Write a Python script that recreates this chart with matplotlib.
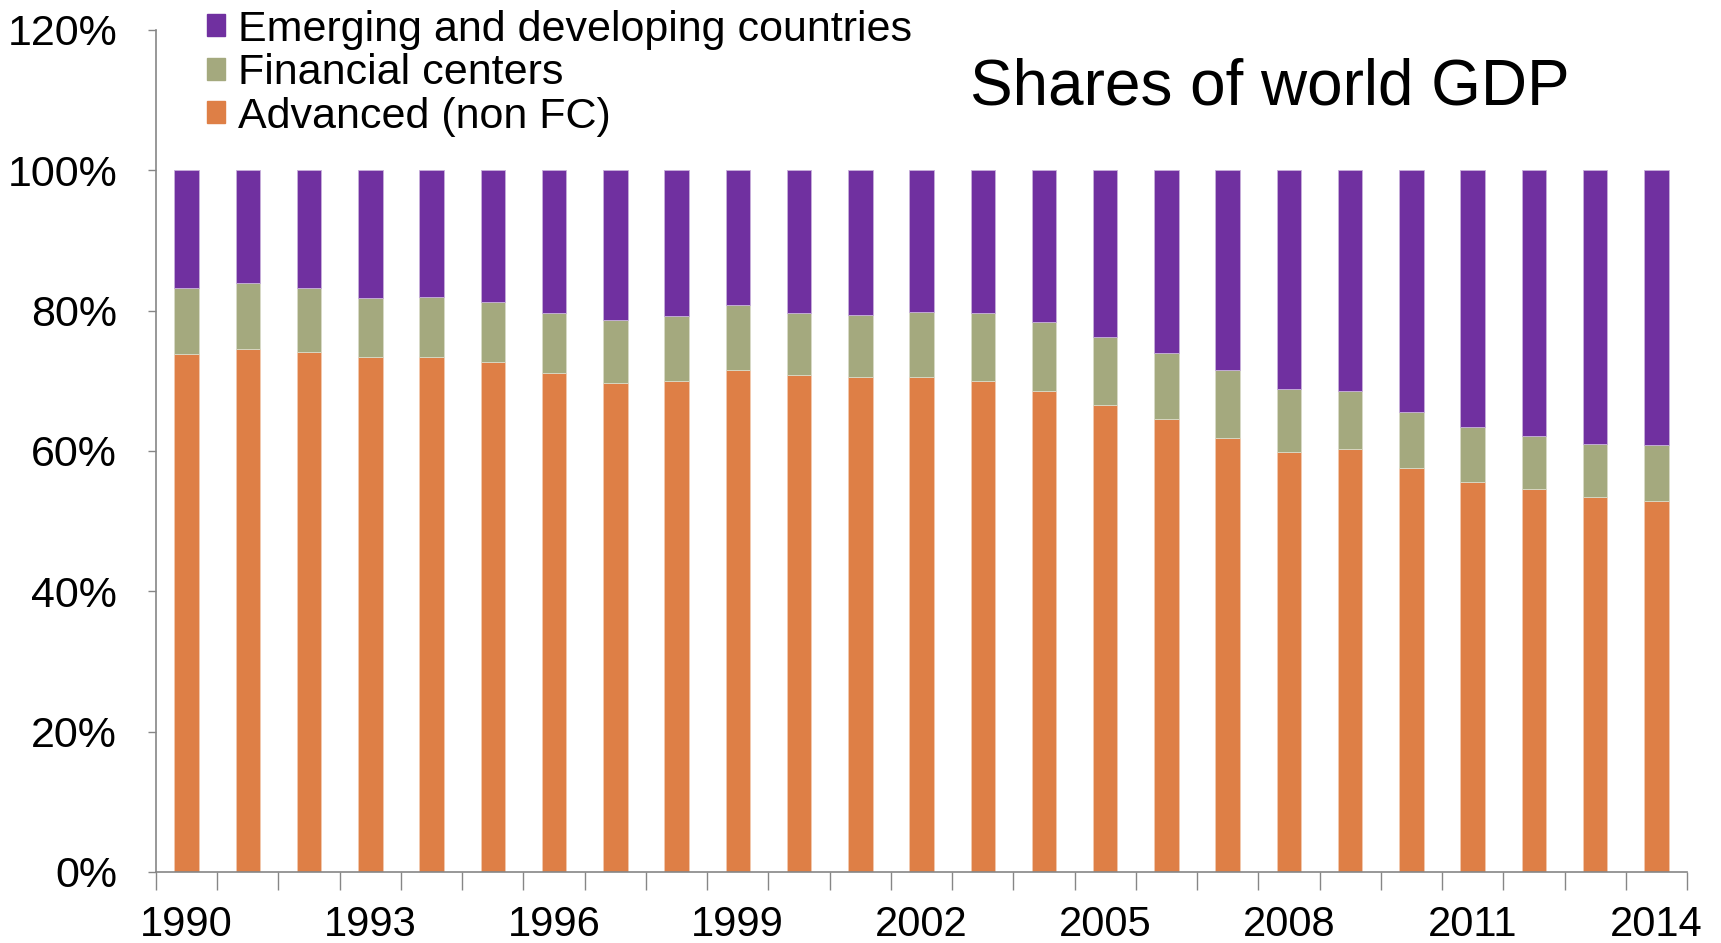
"""
Shares of world GDP: advanced, financial centers, emerging, 1990-2014
"""
import numpy as np
import matplotlib
matplotlib.use("Agg")
import matplotlib.pyplot as plt
from matplotlib.patches import Patch

years = list(range(1990, 2015))
advanced = [73.8, 74.6, 74.1, 73.4, 73.4, 72.7, 71.1, 69.7, 70.0, 71.6, 70.9, 70.6, 70.6,
            70.0, 68.6, 66.6, 64.5, 61.9, 59.9, 60.3, 57.6, 55.6, 54.6, 53.4, 52.9]
fin_centers = [9.5, 9.3, 9.1, 8.4, 8.5, 8.6, 8.6, 8.9, 9.3, 9.2, 8.8, 8.8, 9.2,
               9.7, 9.8, 9.6, 9.5, 9.7, 9.0, 8.3, 7.9, 7.8, 7.6, 7.6, 7.9]
emerging = [16.7, 16.1, 16.8, 18.2, 18.1, 18.7, 20.3, 21.4, 20.7, 19.2, 20.3, 20.6, 20.2,
            20.3, 21.6, 23.8, 26.0, 28.4, 31.1, 31.4, 34.5, 36.6, 37.8, 39.0, 39.2]
labels = ["Emerging and developing countries", "Financial centers", "Advanced (non FC)"]

PURPLE = "#7030A0"
GREEN = "#A4A97E"
ORANGE = "#DE7F46"
GREY = "#868686"

plt.rcParams["font.family"] = ["Liberation Sans", "DejaVu Sans"]

fig = plt.figure(figsize=(17.21, 9.43), dpi=100)
ax = fig.add_axes([0.0906, 0.0753, 0.8897, 0.8929])

x = np.arange(len(years))
adv = np.array(advanced)
fc = np.array(fin_centers)
em = np.array(emerging)
w = 0.4
ax.bar(x, adv, w, color=ORANGE, edgecolor="#F2C9AE", linewidth=0.6)
ax.bar(x, fc, w, bottom=adv, color=GREEN, edgecolor="#D9DBC8", linewidth=0.6)
ax.bar(x, em, w, bottom=adv + fc, color=PURPLE, edgecolor="#C7B0DA", linewidth=0.6)

ax.set_xlim(-0.5, len(years) - 0.5)
ax.set_ylim(0, 120)
ax.set_yticks(range(0, 121, 20))
ax.set_yticklabels([f"{v}%" for v in range(0, 121, 20)])

ax.set_xticks(x[::3])
ax.set_xticklabels([str(y) for y in years[::3]])
ax.set_xticks(np.arange(-0.5, len(years), 1), minor=True)
ax.tick_params(axis="x", which="major", length=0, pad=24, labelsize=30)
ax.tick_params(axis="x", which="minor", length=13, color=GREY, width=1)
ax.tick_params(axis="y", length=6, color=GREY, width=1, labelsize=31, pad=22)

for s in ["top", "right"]:
    ax.spines[s].set_visible(False)
for s in ["left", "bottom"]:
    ax.spines[s].set_color(GREY)
    ax.spines[s].set_linewidth(1.2)

handles = [Patch(color=PURPLE), Patch(color=GREEN), Patch(color=ORANGE)]
fig.legend(handles, labels, loc="upper left", bbox_to_anchor=(0.110, 1.008),
           frameon=False, fontsize=31, handlelength=0.42, handleheight=0.42,
           handletextpad=0.3, labelspacing=0.08, borderaxespad=0)

fig.text(0.738, 0.907, "Shares of world GDP", fontsize=46, ha="center", va="center")

fig.savefig("out.png", dpi=100)
